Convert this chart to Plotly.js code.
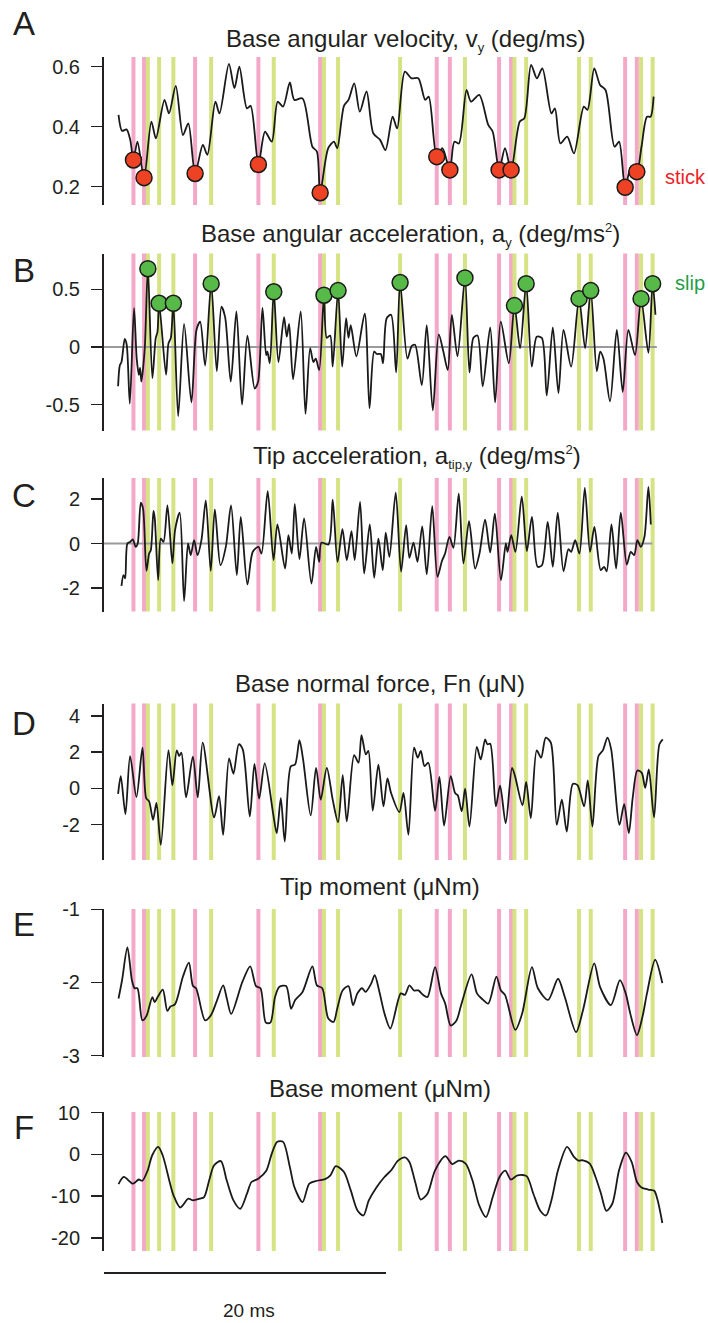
<!DOCTYPE html>
<html>
<head>
<meta charset="utf-8">
<script src="https://cdn.plot.ly/plotly-3.0.1.min.js"></script>
<style>
  html, body { margin: 0; padding: 0; background: #fff; }
  #chart { width: 708px; height: 1323px; }
</style>
</head>
<body>
<div id="chart"></div>
<script>
// ---- time of stick and slip events (ms) ----
const stickTimes = [1.09, 1.84, 5.46, 9.95, 14.33, 22.60, 23.53, 27.02, 27.87, 35.96, 36.79];
const stickVel   = [0.289, 0.230, 0.244, 0.274, 0.180, 0.300, 0.256, 0.256, 0.256, 0.198, 0.250];
const slipTimes  = [2.11, 2.91, 3.92, 6.60, 11.04, 14.60, 15.60, 20.00, 24.60, 28.11, 28.94, 32.69, 33.52, 37.09, 37.91];
const slipAcc    = [0.68, 0.38, 0.38, 0.55, 0.48, 0.45, 0.49, 0.56, 0.60, 0.36, 0.55, 0.42, 0.49, 0.42, 0.55];

// ---- A: base angular velocity (deg/ms), samples between the stick points ----
const tVel = [0.03,0.28,0.60,0.86,1.37,2.36,2.68,3.29,3.61,4.09,4.60,4.98,6.01,6.33,6.90,7.19,7.86,8.25,8.60,9.14,9.40,
  10.42,10.90,11.32,11.70,12.18,12.50,13.08,13.78,14.10,14.90,15.31,15.54,16.02,16.34,16.75,17.14,17.62,18.10,18.58,18.96,
  19.47,19.79,20.34,20.81,21.29,21.78,22.03,23.00,23.85,24.17,24.71,25.03,25.61,26.25,26.57,27.44,28.49,28.81,29.29,29.70,
  30.09,30.73,30.98,31.37,31.85,32.33,33.03,33.29,33.77,34.18,34.57,35.21,35.53,36.39,37.12,37.51,37.76,37.98];
const vel = [0.439,0.386,0.391,0.356,0.350,0.417,0.361,0.489,0.444,0.536,0.372,0.411,0.339,0.306,0.483,0.444,0.609,0.528,0.600,0.461,0.469,
  0.383,0.350,0.483,0.467,0.547,0.489,0.494,0.333,0.317,0.328,0.350,0.328,0.469,0.489,0.544,0.450,0.517,0.378,0.356,0.322,
  0.433,0.394,0.583,0.561,0.561,0.489,0.500,0.328,0.350,0.344,0.522,0.483,0.506,0.406,0.383,0.328,0.417,0.428,0.606,0.561,
  0.594,0.444,0.461,0.344,0.367,0.311,0.467,0.456,0.594,0.539,0.522,0.333,0.350,0.267,0.333,0.433,0.433,0.500];

// ---- B: base angular acceleration (deg/ms^2), samples between the slip points ----
const tAcc = [0.00,0.12,0.24,0.47,0.61,0.83,1.13,1.32,1.47,1.56,1.65,1.89,2.43,2.67,2.79,3.40,3.57,3.74,4.26,4.68,5.20,5.56,5.82,6.17,
  7.00,7.33,7.59,7.99,8.39,8.79,9.17,9.69,9.93,10.24,10.50,10.59,10.76,11.37,11.77,11.96,12.13,12.41,12.95,13.29,13.62,13.85,14.02,14.26,
  14.80,15.04,15.22,15.89,16.17,16.34,16.50,16.90,17.49,17.83,18.16,18.35,18.63,18.79,19.05,19.36,19.72,20.52,20.83,21.06,21.54,21.89,
  22.32,22.74,23.07,23.38,23.67,24.07,24.92,25.20,25.49,25.86,26.39,26.74,27.14,27.71,28.51,29.34,29.69,30.05,30.40,30.83,31.23,31.59,
  32.13,33.12,33.95,34.19,34.42,34.89,35.37,35.79,36.19,36.66,37.61,38.11];
const acc = [-0.34,-0.16,-0.13,0.07,0.02,-0.49,0.34,-0.10,-0.24,-0.18,-0.30,-0.01,-0.27,0.08,0.13,-0.24,0.03,0.08,-0.60,0.20,-0.48,0.15,0.22,-0.16,
  -0.21,0.35,0.26,-0.30,0.31,-0.50,0.10,-0.36,-0.30,0.34,-0.07,-0.04,-0.14,-0.13,0.26,0.09,0.20,-0.28,0.31,-0.58,-0.01,-0.13,-0.10,-0.20,
  0.08,0.10,-0.17,-0.17,0.25,0.08,0.19,-0.08,0.29,-0.53,-0.04,-0.06,-0.06,-0.14,0.25,0.28,-0.22,-0.10,0.01,0.02,-0.33,0.19,
  -0.55,0.11,-0.04,-0.20,0.28,-0.08,-0.22,0.08,0.10,-0.34,0.17,-0.48,0.22,-0.14,-0.01,-0.17,0.09,0.08,-0.42,0.17,-0.40,0.15,
  -0.17,-0.01,-0.21,-0.04,-0.10,-0.47,0.15,-0.39,0.15,-0.07,-0.05,0.28];

// ---- C: tip acceleration (deg/ms^2) ----
const tTip = [0.24,0.38,0.50,0.66,0.85,1.04,1.25,1.39,1.61,1.77,2.01,2.20,2.32,2.51,2.60,2.84,3.03,3.22,3.50,3.85,4.04,4.37,4.68,4.96,
  5.15,5.39,5.63,5.91,6.22,6.57,6.86,7.26,7.64,8.01,8.42,8.70,9.17,9.55,9.95,10.17,10.61,11.02,11.30,11.84,12.08,12.32,12.53,12.86,
  13.19,13.71,14.04,14.26,14.42,14.92,15.22,15.56,15.91,16.22,16.55,16.78,17.16,17.45,17.85,18.16,18.46,18.77,18.98,19.24,19.69,
  20.07,20.43,20.66,20.95,21.23,21.57,21.89,22.28,22.65,22.96,23.19,23.50,23.78,24.16,24.49,24.89,25.32,25.63,26.03,26.39,26.72,
  27.15,27.50,27.62,27.88,28.18,28.63,28.99,29.35,29.75,30.06,30.47,30.83,31.18,31.59,31.94,32.13,32.42,32.72,33.10,33.47,33.78,
  34.23,34.47,34.65,34.99,35.32,35.65,36.08,36.36,36.60,36.83,37.07,37.33,37.61,37.78];
const tipAcc = [-1.89,-1.41,-1.56,0.00,0.07,0.18,-0.15,0.00,1.83,1.56,-1.22,-0.45,-0.30,1.46,1.12,-1.64,0.22,0.07,1.71,-0.89,0.60,1.38,-2.57,0.00,
  -0.52,0.15,-0.52,0.15,1.93,-1.22,1.53,-0.97,-0.15,1.71,-1.41,1.19,-1.83,-0.37,-0.15,-0.45,2.34,-0.74,0.85,-1.12,0.37,-0.45,1.77,-0.70,
  1.12,-1.79,-0.15,-0.82,0.04,-0.04,1.96,-0.82,0.64,-0.74,0.55,-0.74,1.86,-1.34,0.85,-1.53,0.22,-1.19,0.49,-0.60,2.28,
  -1.26,0.82,-0.64,0.04,-0.82,0.77,-1.38,1.67,-1.49,-0.79,-0.45,0.30,-0.19,2.23,-0.89,1.00,-1.12,-0.45,1.07,-0.40,1.34,
  -1.64,0.00,-0.37,0.37,-0.37,2.11,-0.34,1.19,-1.04,-0.97,0.97,-1.04,1.38,-1.24,-0.25,-0.37,0.15,-0.45,2.49,-0.37,0.74,
  -1.19,-1.04,-1.24,0.85,-1.12,1.38,-0.94,-0.37,-0.52,0.15,-0.15,0.30,2.53,0.85];

// ---- D: base normal force (uN) ----
const tFn = [0.00,0.19,0.52,0.85,1.30,1.73,1.99,2.20,2.48,2.72,3.03,3.57,3.85,4.16,4.33,4.49,4.82,5.30,5.65,6.00,6.81,7.16,7.45,7.87,
  8.18,8.56,8.84,9.34,9.67,10.00,10.40,10.99,11.25,11.54,11.82,12.25,12.55,12.86,13.12,13.66,14.04,14.37,14.80,15.22,15.60,15.93,
  16.22,16.74,17.05,17.26,17.57,17.75,18.06,18.46,18.82,19.10,19.36,19.95,20.24,20.59,20.99,21.25,21.47,21.73,22.00,22.48,22.79,
  23.12,23.59,23.90,24.09,24.37,24.61,24.92,25.44,25.72,26.03,26.19,26.39,26.79,27.09,27.49,27.94,28.15,28.68,28.94,29.27,29.69,
  30.00,30.33,30.69,31.11,31.47,31.82,32.25,32.58,33.05,33.31,33.64,34.07,34.38,34.71,34.97,35.56,35.89,36.22,36.50,36.83,37.14,
  37.38,37.64,38.01,38.39,38.63];
const fn = [-0.31,0.67,-1.43,1.78,-0.48,2.24,-0.54,-0.72,-1.74,-0.81,-3.13,2.11,0.17,2.09,1.78,1.96,-0.50,1.74,-0.50,2.52,-1.61,-0.44,-2.57,1.65,
  0.80,2.43,2.15,-1.56,1.35,-0.57,1.37,-1.37,-2.48,-0.54,-2.94,1.22,1.31,2.65,1.59,-1.50,1.13,-0.63,1.13,-0.63,-1.87,0.72,
  -1.83,1.83,1.41,2.93,1.87,2.06,-1.24,1.31,-1.00,0.54,-0.26,-1.31,-0.26,-2.57,2.24,1.69,2.06,1.22,1.41,-1.24,0.63,
  -2.06,0.67,-0.26,-0.39,-1.28,-0.02,-2.11,2.28,1.59,2.70,2.43,2.46,-1.00,0.15,-1.93,1.13,0.67,-0.94,0.35,-1.65,2.09,
  1.69,2.80,2.52,-2.02,-0.63,-2.39,0.24,0.17,-1.00,0.43,-2.11,1.78,2.09,2.80,2.15,-2.02,-0.87,-2.48,-0.50,0.98,0.85,
  0.02,1.04,-1.61,2.43,2.70];

// ---- E: tip moment (uNm) ----
const tTipM = [0.03,0.28,0.66,0.98,1.17,1.37,1.72,2.01,2.43,2.59,2.81,3.17,3.49,3.71,4.03,4.60,5.02,5.31,5.53,6.17,6.58,6.97,7.45,7.71,
  8.02,8.82,9.37,9.78,10.10,10.48,10.80,11.13,11.44,11.92,12.27,12.56,13.08,13.78,14.10,14.48,14.90,15.28,15.54,15.92,16.34,16.66,
  16.97,17.30,17.55,17.94,18.20,18.51,18.90,19.31,20.05,20.34,20.66,20.98,21.30,21.62,21.94,22.48,22.90,23.20,23.59,24.00,24.33,
  25.07,25.45,25.78,26.25,26.83,27.15,27.44,28.17,28.65,29.35,29.77,30.50,31.20,31.68,32.48,32.97,33.77,34.18,34.95,35.59,36.00,
  36.33,36.80,37.19,37.51,38.09,38.60];
const tipM = [-2.22,-1.97,-1.52,-1.97,-2.08,-2.08,-2.52,-2.46,-2.20,-2.27,-2.20,-2.10,-2.39,-2.33,-2.30,-1.92,-1.73,-2.05,-2.08,-2.52,-2.45,-2.27,-2.04,-2.22,
  -2.43,-1.99,-1.78,-2.05,-2.08,-2.55,-2.55,-2.20,-2.06,-2.05,-2.36,-2.24,-2.13,-1.78,-2.04,-2.08,-2.49,-2.54,-2.36,-2.11,-2.05,-2.31,
  -2.15,-2.08,-2.13,-2.02,-1.90,-2.11,-2.43,-2.63,-2.15,-2.17,-2.04,-2.11,-2.11,-2.17,-2.20,-1.79,-2.15,-2.29,-2.59,-2.52,-2.31,
  -1.89,-2.15,-2.22,-2.29,-1.92,-2.11,-2.17,-2.65,-2.43,-1.79,-2.08,-2.24,-1.95,-2.20,-2.68,-2.38,-1.74,-2.06,-2.31,-1.97,-2.15,
  -2.43,-2.72,-2.47,-2.15,-1.69,-2.01];

// ---- F: base moment (uNm) ----
const tBaseM = [0.03,0.41,1.05,1.47,1.72,2.10,2.42,2.84,3.16,3.93,4.41,4.98,5.31,5.79,6.10,6.49,6.81,7.29,7.70,8.18,8.66,9.14,9.46,9.94,
  10.51,10.90,11.29,11.70,12.18,12.50,13.08,13.56,14.10,14.68,15.06,15.44,16.02,16.50,16.98,17.40,17.78,18.32,18.89,19.37,19.85,
  20.34,20.66,21.07,21.46,21.94,22.48,23.21,23.69,24.17,24.65,25.13,25.61,26.09,26.57,27.05,27.46,27.85,28.33,28.97,29.45,29.93,
  30.35,30.73,31.20,31.84,32.33,32.65,32.97,33.45,33.86,34.25,34.63,35.05,35.53,36.01,36.42,36.80,37.12,37.60,38.02,38.24,38.60];
const baseM = [-7.1,-5.4,-7.0,-6.0,-6.3,-3.8,-0.2,1.8,-0.2,-9.8,-12.7,-10.6,-11.0,-10.6,-10.2,-5.8,-2.6,-1.6,-6.2,-11.0,-13.0,-9.4,-6.6,-5.8,
  -3.9,0.2,3.0,3.0,-3.0,-7.8,-11.4,-7.0,-6.3,-5.9,-5.0,-2.8,-4.2,-8.6,-13.4,-14.6,-11.0,-7.9,-5.4,-3.8,-1.5,
  -0.7,-1.8,-6.6,-10.8,-9.4,-3.8,-0.4,-2.3,-1.5,-2.2,-6.2,-12.2,-15.0,-10.2,-5.4,-3.9,-6.0,-5.0,-5.2,-9.4,-13.4,
  -14.6,-11.0,-3.8,1.8,-0.6,-1.5,-1.4,-2.2,-5.4,-9.4,-13.5,-11.8,-3.8,0.4,-1.8,-6.6,-7.9,-8.4,-8.7,-10.6,-16.4];

// ---- axis tick labels ----
const ticksA = {vals: [0.2, 0.4, 0.6], text: ['0.2', '0.4', '0.6']};
const ticksB = {vals: [-0.5, 0, 0.5], text: ['-0.5', '0', '0.5']};
const ticksC = {vals: [-2, 0, 2], text: ['-2', '0', '2']};
const ticksD = {vals: [-2, 0, 2, 4], text: ['-2', '0', '2', '4']};
const ticksE = {vals: [-3, -2, -1], text: ['-3', '-2', '-1']};
const ticksF = {vals: [-20, -10, 0, 10], text: ['-20', '-10', '0', '10']};
const scaleBarMs = 20;

// ---------------- drawing ----------------
const W = 708, H = 1323;
const FONT = 'Liberation Sans, Arial, Helvetica, sans-serif';
const INK = '#231f20';
const PINK = '#f4a8c8';
const LIME = '#d5e384';
const xRange = [-1, 39];
const xDomain = [104 / W, 668 / W];

// small sub- and superscripts for the panel titles
const sub = s => '<sub><span style="font-size:13px">' + s + '</span></sub>';
const sup = s => '<sup><span style="font-size:13px">' + s + '</span></sup>';

// merge a curve with its event points so the line runs through the markers
function mergeSeries(t, v, te, ve) {
  const pts = t.map((x, i) => [x, v[i]]).concat(te.map((x, i) => [x, ve[i]]));
  pts.sort((a, b) => a[0] - b[0]);
  return {x: pts.map(p => p[0]), y: pts.map(p => p[1])};
}

// panel geometry: top / bottom of each y axis in pixels, and y range
const panels = [
  {top: 57,   bot: 205,  range: [0.139, 0.632], ticks: ticksA, letter: 'A', ly: 24,
   title: 'Base angular velocity, v' + sub('y') + ' (deg/ms)', tx: 406, ty: 40},
  {top: 253.5, bot: 430.5, range: [-0.724, 0.812], ticks: ticksB, letter: 'B', ly: 270,
   title: 'Base angular acceleration, a' + sub('y') + ' (deg/ms' + sup('2') + ')', tx: 410, ty: 235},
  {top: 478,  bot: 611.5, range: [-3.04, 2.93], ticks: ticksC, letter: 'C', ly: 496,
   title: 'Tip acceleration, a' + sub('tip,y') + ' (deg/ms' + sup('2') + ')', tx: 417, ty: 457},
  {top: 703.5, bot: 860, range: [-3.96, 4.68], ticks: ticksD, letter: 'D', ly: 724,
   title: 'Base normal force, Fn (\u03bcN)', tx: 380, ty: 683},
  {top: 909,  bot: 1057, range: [-3.02, -0.996], ticks: ticksE, letter: 'E', ly: 924,
   title: 'Tip moment (\u03bcNm)', tx: 380, ty: 887},
  {top: 1112, bot: 1251, range: [-23.1, 10.14], ticks: ticksF, letter: 'F', ly: 1127,
   title: 'Base moment (\u03bcNm)', tx: 380, ty: 1088}
];

const velCurve = mergeSeries(tVel, vel, stickTimes, stickVel);
const accCurve = mergeSeries(tAcc, acc, slipTimes, slipAcc);
const curves = [
  velCurve,
  accCurve,
  {x: tTip, y: tipAcc},
  {x: tFn, y: fn},
  {x: tTipM, y: tipM},
  {x: tBaseM, y: baseM}
];

const layout = {
  width: W, height: H,
  margin: {l: 0, r: 0, t: 0, b: 0},
  paper_bgcolor: '#fff', plot_bgcolor: 'rgba(0,0,0,0)',
  showlegend: false,
  font: {family: FONT, color: INK},
  shapes: [], annotations: []
};
const data = [];

panels.forEach((p, i) => {
  const s = i === 0 ? '' : String(i + 1);
  layout['xaxis' + s] = {
    domain: xDomain, range: xRange, visible: false, fixedrange: true,
    anchor: 'y' + s
  };
  layout['yaxis' + s] = {
    domain: [1 - p.bot / H, 1 - p.top / H], range: p.range, anchor: 'x' + s,
    showline: true, linecolor: INK, linewidth: 2, showgrid: false, zeroline: false,
    ticks: 'outside', ticklen: 11, tickwidth: 1.5, tickcolor: INK,
    tickvals: p.ticks.vals, ticktext: p.ticks.text, ticklabelstandoff: 7,
    tickfont: {family: FONT, size: 20, color: INK}, fixedrange: true
  };
  // stick (pink) and slip (green) event lines
  stickTimes.forEach(t => layout.shapes.push({
    type: 'line', xref: 'x' + s, yref: 'y' + s + ' domain', x0: t, x1: t, y0: 0, y1: 1,
    line: {color: PINK, width: 4}, layer: 'below'
  }));
  slipTimes.forEach(t => layout.shapes.push({
    type: 'line', xref: 'x' + s, yref: 'y' + s + ' domain', x0: t, x1: t, y0: 0, y1: 1,
    line: {color: LIME, width: 4}, layer: 'below'
  }));
  const c = curves[i];
  data.push({
    x: c.x, y: c.y, xaxis: 'x' + s, yaxis: 'y' + s, type: 'scatter', mode: 'lines',
    line: {color: '#1a1a1a', width: 1.8, shape: 'spline', smoothing: 0.8},
    hoverinfo: 'skip'
  });
  layout.annotations.push({
    xref: 'paper', yref: 'paper', x: p.tx / W, y: 1 - p.ty / H, text: p.title,
    showarrow: false, xanchor: 'center', yanchor: 'middle',
    font: {family: FONT, size: 24, color: INK}
  });
  layout.annotations.push({
    xref: 'paper', yref: 'paper', x: 24 / W, y: 1 - p.ly / H, text: p.letter,
    showarrow: false, xanchor: 'center', yanchor: 'middle',
    font: {family: FONT, size: 33, color: INK}
  });
});

// zero reference lines in the acceleration panels
[['2', accCurve], ['3', {x: tTip}]].forEach(([s, c]) => layout.shapes.push({
  type: 'line', xref: 'x' + s, yref: 'y' + s, x0: xRange[0], x1: c.x[c.x.length - 1] + 0.1, y0: 0, y1: 0,
  line: {color: '#9a9a9a', width: 2}, layer: 'below'
}));

// stick markers on the velocity trace, slip markers on the acceleration trace
data.push({
  x: stickTimes, y: stickVel, xaxis: 'x', yaxis: 'y', type: 'scatter', mode: 'markers',
  marker: {color: '#ee4224', size: 16, line: {color: '#1a1a1a', width: 1.5}}, hoverinfo: 'skip'
});
data.push({
  x: slipTimes, y: slipAcc, xaxis: 'x2', yaxis: 'y2', type: 'scatter', mode: 'markers',
  marker: {color: '#57b947', size: 16, line: {color: '#1a1a1a', width: 1.5}}, hoverinfo: 'skip'
});

layout.annotations.push({
  xref: 'paper', yref: 'paper', x: 685 / W, y: 1 - 177 / H, text: 'stick',
  showarrow: false, xanchor: 'center', yanchor: 'middle',
  font: {family: FONT, size: 20, color: '#ec2227'}
});
layout.annotations.push({
  xref: 'paper', yref: 'paper', x: 690 / W, y: 1 - 283 / H, text: 'slip',
  showarrow: false, xanchor: 'center', yanchor: 'middle',
  font: {family: FONT, size: 20, color: '#1f9e48'}
});

// 20 ms scale bar below the last panel
layout.shapes.push({
  type: 'line', xref: 'x6', yref: 'paper', x0: xRange[0], x1: xRange[0] + scaleBarMs,
  y0: 1 - 1273 / H, y1: 1 - 1273 / H, line: {color: INK, width: 2}
});
layout.annotations.push({
  xref: 'x6', yref: 'paper', x: xRange[0] + scaleBarMs / 2, xshift: 4, y: 1 - 1310 / H,
  text: scaleBarMs + ' ms', showarrow: false, xanchor: 'center', yanchor: 'middle',
  font: {family: FONT, size: 19, color: INK}
});

Plotly.newPlot('chart', data, layout, {staticPlot: true, displayModeBar: false});
</script>
</body>
</html>
